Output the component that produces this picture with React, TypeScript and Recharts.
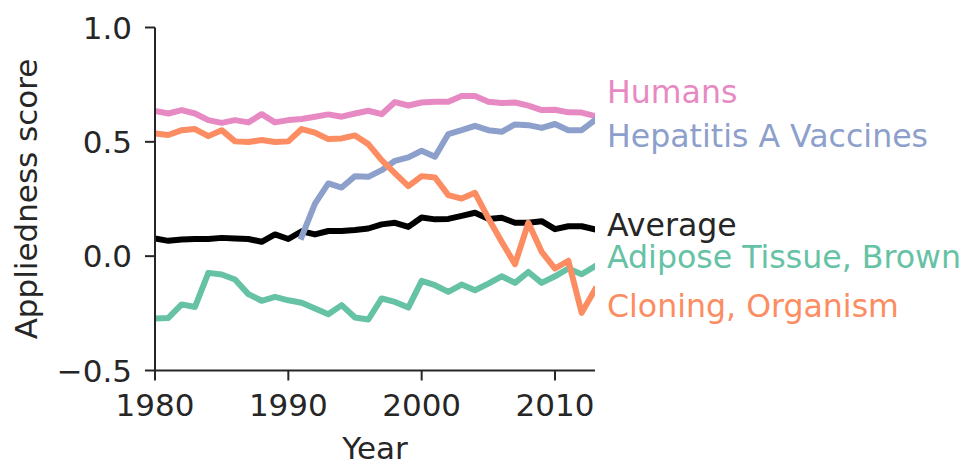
import React from "react";
import { LineChart, Line, XAxis, YAxis, Customized } from "recharts";

const years = [
  1980, 1981, 1982, 1983, 1984, 1985, 1986, 1987, 1988, 1989,
  1990, 1991, 1992, 1993, 1994, 1995, 1996, 1997, 1998, 1999,
  2000, 2001, 2002, 2003, 2004, 2005, 2006, 2007, 2008, 2009,
  2010, 2011, 2012, 2013,
];

const humans = [
  0.635, 0.624, 0.639, 0.624, 0.595, 0.583, 0.595, 0.585, 0.621, 0.585,
  0.595, 0.6, 0.61, 0.62, 0.61, 0.624, 0.636, 0.621, 0.674, 0.659,
  0.672, 0.675, 0.675, 0.7, 0.7, 0.675, 0.67, 0.672, 0.658, 0.639,
  0.64, 0.629, 0.628, 0.613,
];

const hepatitis: (number | null)[] = [
  null, null, null, null, null, null, null, null, null, null,
  null, 0.085, 0.23, 0.318, 0.3, 0.35, 0.347, 0.376, 0.417, 0.432,
  0.461, 0.435, 0.534, 0.551, 0.57, 0.551, 0.544, 0.576, 0.573, 0.561,
  0.578, 0.551, 0.551, 0.595,
];

const average = [
  0.077, 0.067, 0.073, 0.075, 0.075, 0.08, 0.077, 0.075, 0.063, 0.095,
  0.075, 0.109, 0.095, 0.11, 0.11, 0.114, 0.121, 0.139, 0.146, 0.128,
  0.169, 0.161, 0.163, 0.176, 0.19, 0.163, 0.168, 0.146, 0.146, 0.153,
  0.118, 0.131, 0.131, 0.117,
];

const adipose = [
  -0.273, -0.27, -0.211, -0.222, -0.073, -0.08, -0.102, -0.166, -0.195, -0.178,
  -0.193, -0.204, -0.229, -0.254, -0.214, -0.268, -0.277, -0.185, -0.2, -0.225,
  -0.108, -0.127, -0.156, -0.124, -0.149, -0.12, -0.088, -0.117, -0.069, -0.117,
  -0.088, -0.054, -0.079, -0.044,
];

const cloning = [
  0.537, 0.53, 0.551, 0.556, 0.525, 0.551, 0.502, 0.499, 0.508, 0.499,
  0.502, 0.556, 0.54, 0.512, 0.515, 0.528, 0.49, 0.42, 0.362, 0.306,
  0.35, 0.344, 0.267, 0.252, 0.277, 0.166, 0.063, -0.035, 0.146, 0.019,
  -0.054, -0.02, -0.248, -0.146,
];

const xTicks = [1980, 1990, 2000, 2010];
const yTicks = [-0.5, 0, 0.5, 1.0];

const labelNames = ["Humans", "Hepatitis A Vaccines", "Average", "Adipose Tissue, Brown", "Cloning, Organism"];
const labelColors = ["#e78ac3", "#8da0cb", "#262626", "#66c2a5", "#fc8d62"];
const labelBaselines = [103, 147, 236, 268, 317];

const data = years.map((y, i) => ({
  year: y,
  humans: humans[i],
  hepatitis: hepatitis[i],
  average: average[i],
  adipose: adipose[i],
  cloning: cloning[i],
}));

const FONT = "DejaVu Sans";
const AX = "#262626";
const FS = 31;
const LFS = 31.6;

const fmtY = (v: number) => v.toFixed(1).replace("-", "\u2212");

const Annotations = () => (
  <g>
    {labelNames.map((n, i) => (
      <text
        key={n}
        x={607}
        y={labelBaselines[i]}
        fill={labelColors[i]}
        fontFamily={FONT}
        fontSize={LFS}
      >
        {n}
      </text>
    ))}
    <text
      x={375}
      y={459}
      textAnchor="middle"
      fill={AX}
      fontFamily={FONT}
      fontSize={FS}
    >
      Year
    </text>
    <text
      x={37}
      y={199}
      textAnchor="middle"
      fill={AX}
      fontFamily={FONT}
      fontSize={FS}
      transform="rotate(-90, 37, 199)"
    >
      Appliedness score
    </text>
  </g>
);

export default function App() {
  const lineProps = {
    type: "linear" as const,
    dot: false,
    isAnimationActive: false,
    strokeWidth: 6,
    strokeLinejoin: "round" as const,
    strokeLinecap: "square" as const,
  };
  return (
    <div style={{ position: "absolute", left: 0, top: 0, width: 964, height: 462, background: "#fff" }}>
      <LineChart
        width={964}
        height={462}
        data={data}
        margin={{ top: 27.5, right: 369, left: 0, bottom: 31.5 }}
      >
        <XAxis
          dataKey="year"
          type="number"
          domain={[1980, 2013]}
          ticks={xTicks}
          allowDataOverflow
          height={60}
          stroke={AX}
          strokeWidth={2}
          tickSize={10}
          tickMargin={13}
          tick={{ fill: AX, fontFamily: FONT, fontSize: FS }}
          tickLine={{ stroke: AX, strokeWidth: 2 }}
        />
        <YAxis
          type="number"
          domain={[-0.5, 1.0]}
          ticks={yTicks}
          allowDataOverflow
          width={155}
          stroke={AX}
          strokeWidth={2}
          tickSize={10}
          tickMargin={13}
          tickFormatter={fmtY}
          tick={{ fill: AX, fontFamily: FONT, fontSize: FS }}
          tickLine={{ stroke: AX, strokeWidth: 2 }}
        />
        <Line dataKey="average" stroke="#000000" {...lineProps} />
        <Line dataKey="humans" stroke="#e78ac3" {...lineProps} />
        <Line dataKey="hepatitis" stroke="#8da0cb" {...lineProps} />
        <Line dataKey="adipose" stroke="#66c2a5" {...lineProps} />
        <Line dataKey="cloning" stroke="#fc8d62" {...lineProps} />
        <Customized component={Annotations} />
      </LineChart>
    </div>
  );
}
